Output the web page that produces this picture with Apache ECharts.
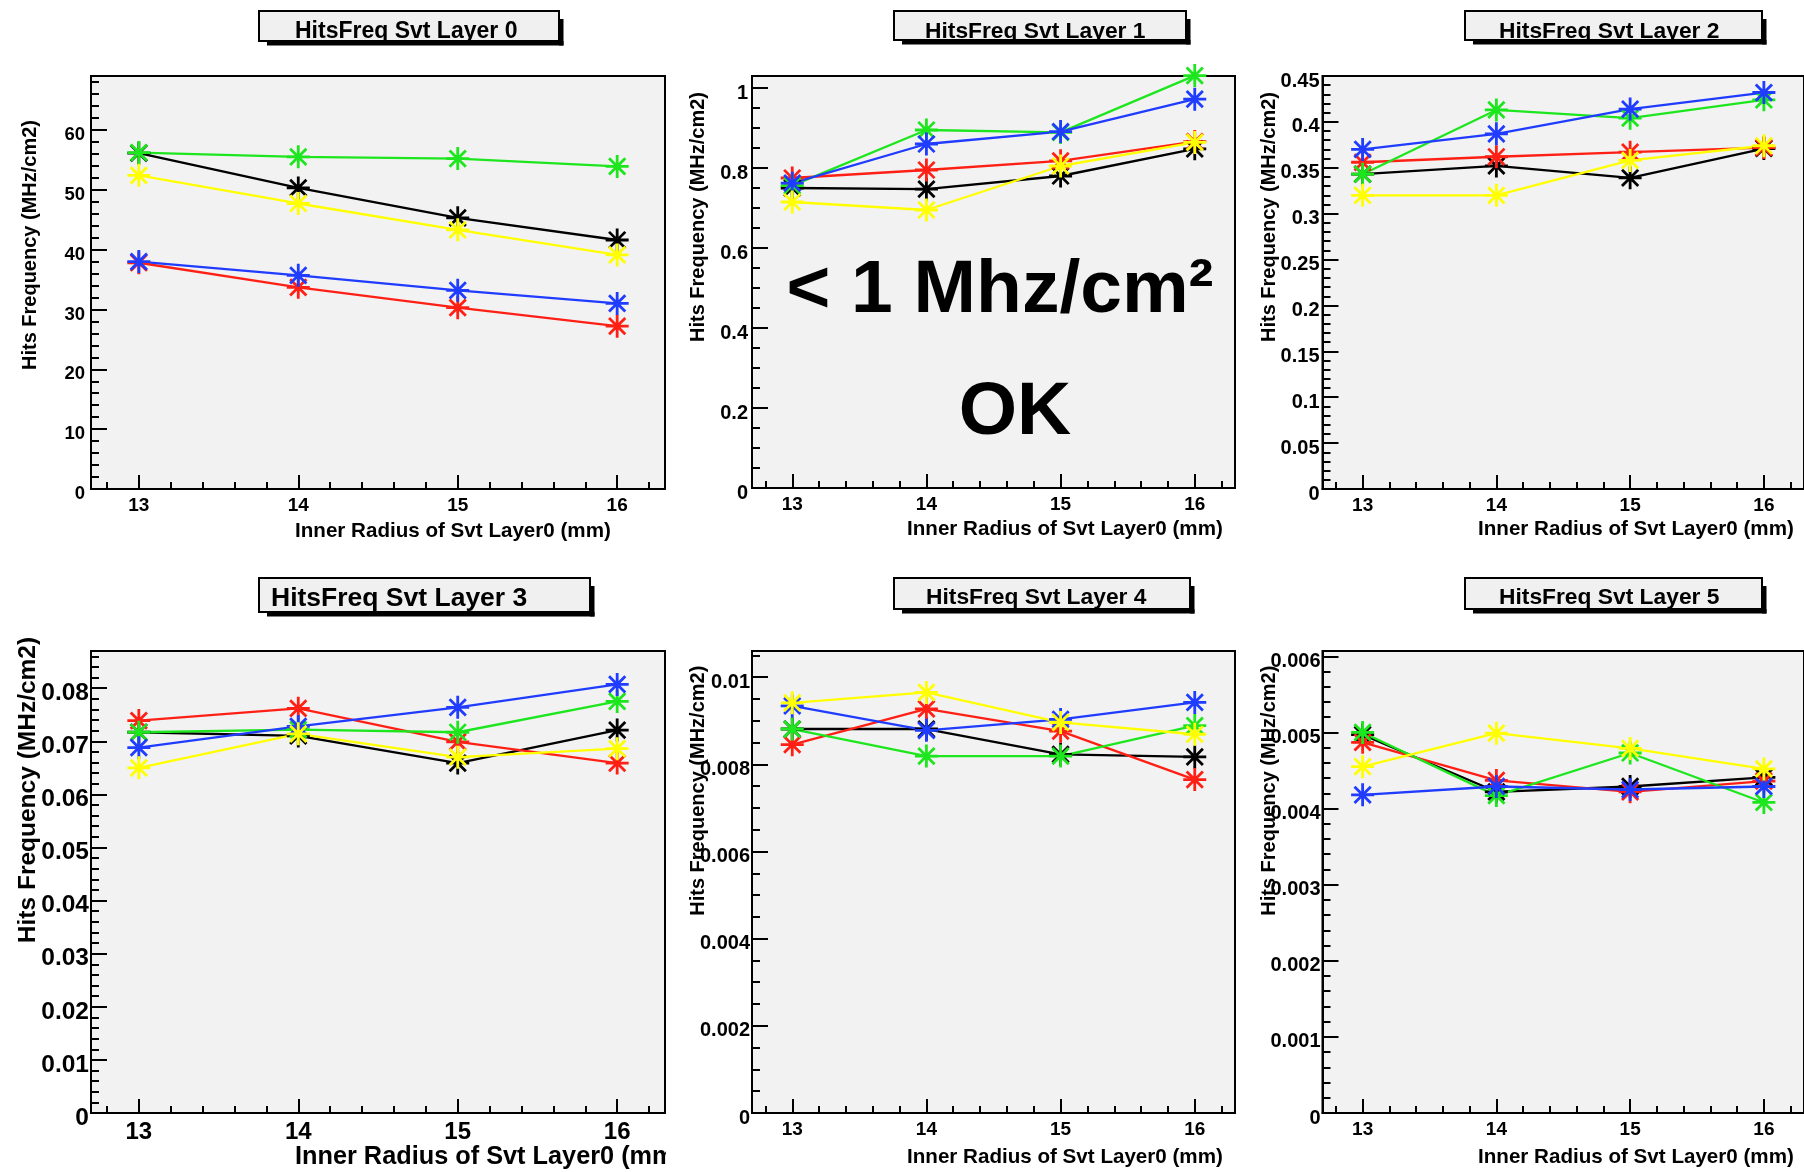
<!DOCTYPE html>
<html>
<head>
<meta charset="utf-8">
<script src="https://cdn.jsdelivr.net/npm/echarts@6/dist/echarts.min.js"></script>
<style>
  html, body { margin: 0; padding: 0; background: #fff; }
  #chart { width: 1804px; height: 1172px; }
</style>
</head>
<body>
<div id="chart"></div>
<script>
  // x values: inner radius of Svt layer 0 (mm)
  const radius = [13, 14, 15, 16];

  // hits frequency (MHz/cm2), one row per line: black, red, green, blue, yellow
  const layer0 = [
    [56.1, 50.3, 45.3, 41.6],
    [37.8, 33.7, 30.3, 27.2],
    [56.2, 55.5, 55.2, 53.9],
    [38.0, 35.7, 33.2, 31.0],
    [52.4, 47.7, 43.3, 39.1]
  ];
  const layer1 = [
    [0.750, 0.747, 0.780, 0.848],
    [0.775, 0.795, 0.818, 0.866],
    [0.756, 0.895, 0.889, 1.031],
    [0.762, 0.860, 0.891, 0.972],
    [0.715, 0.695, 0.805, 0.864]
  ];
  const layer2 = [
    [0.343, 0.352, 0.339, 0.371],
    [0.356, 0.362, 0.367, 0.372],
    [0.343, 0.413, 0.404, 0.424],
    [0.370, 0.387, 0.414, 0.432],
    [0.320, 0.320, 0.358, 0.374]
  ];
  const layer3 = [
    [0.0717, 0.0710, 0.0659, 0.0721],
    [0.0739, 0.0762, 0.0699, 0.0659],
    [0.0717, 0.0722, 0.0717, 0.0775],
    [0.0688, 0.0728, 0.0764, 0.0807],
    [0.0650, 0.0714, 0.0670, 0.0686]
  ];
  const layer4 = [
    [0.00881, 0.00881, 0.00823, 0.00817],
    [0.00845, 0.00927, 0.00876, 0.00765],
    [0.00881, 0.00819, 0.00819, 0.00889],
    [0.00934, 0.00878, 0.00903, 0.00942],
    [0.00941, 0.00965, 0.00896, 0.00869]
  ];
  const layer5 = [
    [0.00497, 0.00422, 0.00429, 0.00441],
    [0.00487, 0.00437, 0.00422, 0.00436],
    [0.00500, 0.00417, 0.00473, 0.00408],
    [0.00418, 0.00429, 0.00425, 0.00429],
    [0.00455, 0.00499, 0.00479, 0.00452]
  ];

  const lineColors = ['#000000', '#ff2015', '#1ee61e', '#1f3cff', '#ffff00'];
  const yTitle = 'Hits Frequency (MHz/cm2)';
  const xTitle = 'Inner Radius of Svt Layer0 (mm)';
  const FONT = '"Liberation Sans", Arial, sans-serif';

  // layout of the six pads (pixels)
  const panels = [
    { name: 'HitsFreq Svt Layer 0', rows: layer0, grid: [91, 76, 574, 413], yMax: 69, yStep: 10, yMinor: 5,
      yFont: 18.5, yMargin: 6, xFont: 19, box: [259, 11, 300, 30], titleX: 295, titleY: 31.5, titleFont: 23,
      yTitlePos: [30, 245], yTitleFont: 20, xTitlePos: [295, 531.5], xTitleFont: 20.6 },
    { name: 'HitsFreq Svt Layer 1', rows: layer1, grid: [752, 76, 483, 412], yMax: 1.03, yStep: 0.2, yMinor: 4,
      yFont: 20, yMargin: 4, xFont: 19, box: [894, 11, 292, 29], titleX: 925, titleY: 31.5, titleFont: 22.8,
      yTitlePos: [698.5, 217], yTitleFont: 20, xTitlePos: [907, 529], xTitleFont: 20.6 },
    { name: 'HitsFreq Svt Layer 2', rows: layer2, grid: [1322.5, 76, 485, 413], yMax: 0.45, yStep: 0.05, yMinor: 5,
      yFont: 20, yMargin: 3, xFont: 19, box: [1465, 11, 297, 29], titleX: 1499, titleY: 31.5, titleFont: 22.8,
      yTitlePos: [1269, 217], yTitleFont: 20, xTitlePos: [1478, 529], xTitleFont: 20.6 },
    { name: 'HitsFreq Svt Layer 3', rows: layer3, grid: [91, 651, 574, 462], yMax: 0.087, yStep: 0.01, yMinor: 5,
      yFont: 24.5, yMargin: 2, xFont: 24, box: [259, 578, 331, 34], titleX: 271, titleY: 598.5, titleFont: 26.5,
      yTitlePos: [28, 790], yTitleFont: 24.5, xTitlePos: [295, 1157], xTitleFont: 25.3 },
    { name: 'HitsFreq Svt Layer 4', rows: layer4, grid: [752, 651, 483, 462], yMax: 0.0106, yStep: 0.002, yMinor: 4,
      yFont: 20, yMargin: 2, xFont: 19, box: [894, 578, 296, 31], titleX: 926, titleY: 598.2, titleFont: 22.8,
      yTitlePos: [698.5, 790.7], yTitleFont: 20, xTitlePos: [907, 1157], xTitleFont: 20.6 },
    { name: 'HitsFreq Svt Layer 5', rows: layer5, grid: [1322.5, 651, 485, 462], yMax: 0.00607, yStep: 0.001, yMinor: 5,
      yFont: 20, yMargin: 2, xFont: 19, box: [1465, 578, 297, 31], titleX: 1499, titleY: 597.5, titleFont: 22.8,
      yTitlePos: [1269, 790.7], yTitleFont: 20, xTitlePos: [1478, 1157], xTitleFont: 20.6 }
  ];

  // ROOT style asterisk marker
  const asterisk = 'path://M0,-10L0,10M-10,0L10,0M-7.07,-7.07L7.07,7.07M-7.07,7.07L7.07,-7.07';

  const grids = [], xAxes = [], yAxes = [], series = [], graphics = [];

  panels.forEach(function (p, i) {
    grids.push({
      left: p.grid[0], top: p.grid[1], width: p.grid[2], height: p.grid[3],
      show: true, backgroundColor: '#f2f2f2', borderColor: '#000', borderWidth: 2
    });

    xAxes.push({
      gridIndex: i, type: 'value', min: 12.7, max: 16.3, splitNumber: 3,
      axisLine: { show: true, onZero: false, lineStyle: { color: '#000', width: 2 } },
      axisTick: { show: true, inside: true, length: 14, lineStyle: { color: '#000', width: 2 } },
      minorTick: { show: true, splitNumber: 5, length: 7, lineStyle: { color: '#000', width: 2 } },
      splitLine: { show: false },
      axisLabel: {
        showMinLabel: false, showMaxLabel: false, margin: 7,
        color: '#000', fontFamily: FONT, fontWeight: 'bold', fontSize: p.xFont
      }
    });

    const topIsTick = Math.abs(p.yMax / p.yStep - Math.round(p.yMax / p.yStep)) < 1e-6;
    yAxes.push({
      gridIndex: i, type: 'value', min: 0, max: p.yMax, interval: p.yStep,
      axisLine: { show: true, onZero: false, lineStyle: { color: '#000', width: 2 } },
      axisTick: { show: true, inside: true, length: 16, lineStyle: { color: '#000', width: 2 } },
      minorTick: { show: true, splitNumber: p.yMinor, length: 8, lineStyle: { color: '#000', width: 2 } },
      splitLine: { show: false },
      axisLabel: {
        showMaxLabel: topIsTick, margin: p.yMargin, verticalAlign: 'top', lineHeight: 10,
        color: '#000', fontFamily: FONT, fontWeight: 'bold', fontSize: p.yFont
      }
    });

    p.rows.forEach(function (row, k) {
      series.push({
        type: 'line', xAxisIndex: i, yAxisIndex: i, clip: false,
        data: radius.map(function (r, j) { return [r, row[j]]; }),
        symbol: asterisk, symbolSize: 23,
        lineStyle: { color: lineColors[k], width: 2.3 },
        itemStyle: { color: lineColors[k], borderColor: lineColors[k], borderWidth: 2.8 },
        emphasis: { disabled: true }
      });
    });

    // title pave with its hard shadow
    const b = p.box;
    graphics.push({
      type: 'rect', z: 10,
      shape: { x: b[0], y: b[1], width: b[2], height: b[3] },
      style: { fill: '#f0f0f0', stroke: '#000', lineWidth: 2 }
    });
    graphics.push({
      type: 'text', z: 11, x: p.titleX, y: p.titleY,
      style: { text: p.name, font: 'bold ' + p.titleFont + 'px ' + FONT, fill: '#000', align: 'left', verticalAlign: 'middle' }
    });
    graphics.push({
      type: 'rect', z: 12,
      shape: { x: b[0] + 8, y: b[1] + b[3], width: b[2] - 8 + 4.5, height: 4.5 },
      style: { fill: '#000' }
    });
    graphics.push({
      type: 'rect', z: 12,
      shape: { x: b[0] + b[2], y: b[1] + 8, width: 4.5, height: b[3] - 8 + 4.5 },
      style: { fill: '#000' }
    });

    // axis titles
    graphics.push({
      type: 'text', z: 11, x: p.yTitlePos[0], y: p.yTitlePos[1], rotation: Math.PI / 2,
      style: { text: yTitle, font: 'bold ' + p.yTitleFont + 'px ' + FONT, fill: '#000', align: 'center', verticalAlign: 'middle' }
    });
    graphics.push({
      type: 'text', z: 11, x: p.xTitlePos[0], y: p.xTitlePos[1],
      style: { text: xTitle, font: 'bold ' + p.xTitleFont + 'px ' + FONT, fill: '#000', align: 'left', verticalAlign: 'middle' }
    });
  });

  // the layer 3 x title runs past its pad and is cut there
  graphics.push({
    type: 'rect', z: 13,
    shape: { x: 666, y: 1130, width: 82, height: 42 },
    style: { fill: '#fff' }
  });

  // annotation on layer 1
  graphics.push({
    type: 'text', z: 11, x: 1000, y: 291,
    style: { text: '< 1 Mhz/cm\u00b2', font: 'bold 75px ' + FONT, fill: '#000', align: 'center', verticalAlign: 'middle' }
  });
  graphics.push({
    type: 'text', z: 11, x: 1015, y: 413,
    style: { text: 'OK', font: 'bold 75px ' + FONT, fill: '#000', align: 'center', verticalAlign: 'middle' }
  });

  const chart = echarts.init(document.getElementById('chart'));
  const option = {
    animation: false,
    backgroundColor: '#fff',
    grid: grids,
    xAxis: xAxes,
    yAxis: yAxes,
    series: series,
    graphic: graphics
  };
  chart.setOption(option);
</script>
</body>
</html>
